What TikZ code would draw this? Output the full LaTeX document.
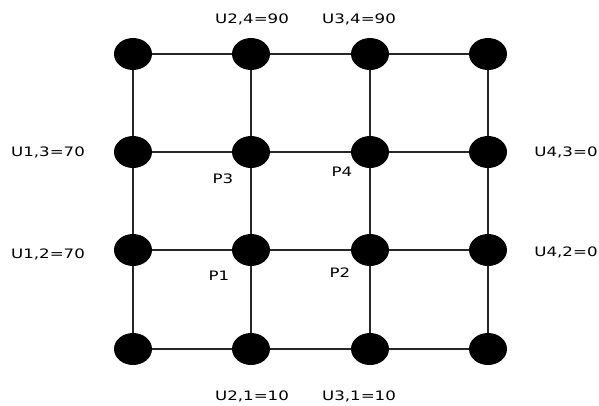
\documentclass[tikz,border=0pt]{standalone}
\usepackage{fontspec}
\setmainfont{DejaVu Sans}
\usetikzlibrary{shapes.geometric}
\begin{document}
\begin{tikzpicture}[x=1pt,y=-1pt,
  dot/.style={ellipse,fill=black,minimum width=38pt,minimum height=32pt,inner sep=0pt},
  gridline/.style={line width=1.1pt,draw=black!85},
  lbl/.style={inner sep=0pt,font=\fontsize{13}{15}\selectfont,xscale=1.28,transform shape}]
\useasboundingbox (0,0) rectangle (599,405);
\def\xs{{133,251,370,488}}
\def\ys{{349,250,152,54}}
\foreach \i in {1,...,4}{
  \foreach \j in {1,...,4}{
    \pgfmathsetmacro{\px}{\xs[\i-1]}
    \pgfmathsetmacro{\py}{\ys[\j-1]}
    \coordinate (c\i\j) at (\px,\py);
  }
}
\foreach \i in {1,...,4}{
  \draw[gridline] (c\i1) -- (c\i4);
  \draw[gridline] (c1\i) -- (c4\i);
}
\foreach \i in {1,...,4}{
  \foreach \j in {1,...,4}{
    \node[dot] (n\i\j) at (c\i\j) {};
  }
}
\node[lbl] (u24) at (252,19) {U2,4=90};
\node[lbl] (u34) at (359,19) {U3,4=90};
\node[lbl] (u13) at (48,152) {U1,3=70};
\node[lbl] (u12) at (48,254) {U1,2=70};
\node[lbl] (u43) at (566,152) {U4,3=0};
\node[lbl] (u42) at (566,252) {U4,2=0};
\node[lbl] (u21) at (252,396) {U2,1=10};
\node[lbl] (u31) at (359,396) {U3,1=10};
\node[lbl] (p3) at (223,179) {P3};
\node[lbl] (p4) at (342,172) {P4};
\node[lbl] (p1) at (219,276) {P1};
\node[lbl] (p2) at (340,273) {P2};
\end{tikzpicture}
\end{document}
